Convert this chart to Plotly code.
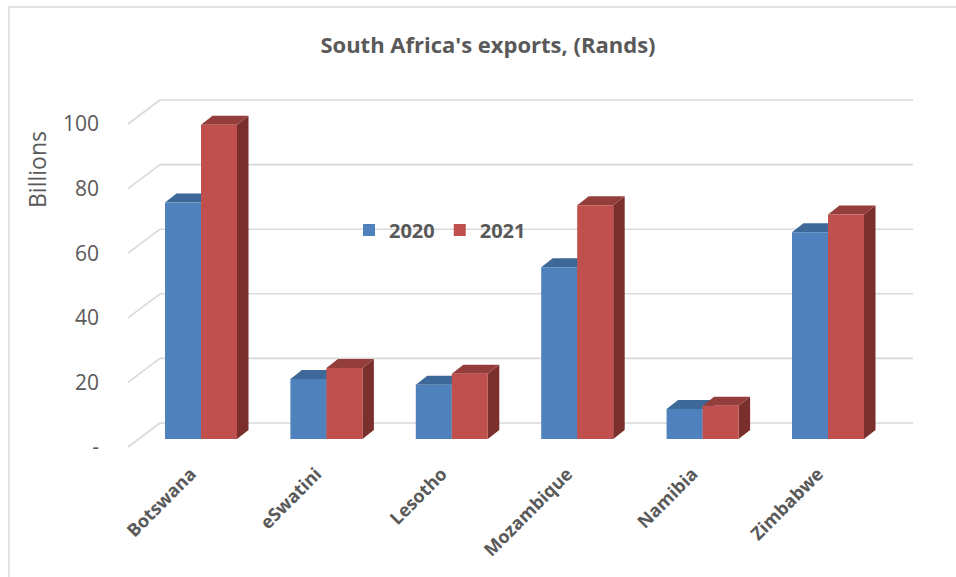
import plotly.graph_objects as go

# ---- data ----
categories = ["Botswana", "eSwatini", "Lesotho", "Mozambique", "Namibia", "Zimbabwe"]
series_names = ["2020", "2021"]
values_2020 = [73.2, 18.6, 16.8, 53.2, 9.3, 64.0]
values_2021 = [97.3, 22.0, 20.2, 72.4, 10.3, 69.5]
y_ticks = [0, 20, 40, 60, 80, 100]
y_tick_labels = ["-", "20", "40", "60", "80", "100"]

# ---- style / geometry ----
W, H = 956, 577
PL, PR, PT, PB = 128, 913, 95, 450          # plot area in pixels
X0_PX, X_STEP = 201, 125.4                  # first category centre, px per category
Y0_PX, Y_STEP = 439, 3.23                   # bar base px, px per unit
BAR_W = 36 / X_STEP                         # bar width in x units
DX, DY = 11.5 / X_STEP, 9 / Y_STEP          # bar depth
FRONT_DY = -8 / Y_STEP                      # floor front edge offset
BACK_DY = 16 / Y_STEP                       # back wall offset
BACK_XP = (160 - PL) / (PR - PL)            # back wall left edge (paper)

front_colors = ["#4F81BD", "#C0504D"]
top_colors = ["#3D6898", "#943E3B"]
side_colors = ["#2F5482", "#7B2F2D"]
grid_color = "#D9D9D9"
text_color = "#595959"
FONT = "Open Sans"

xr = [(PL - X0_PX) / X_STEP, (PR - X0_PX) / X_STEP]
yr = [(Y0_PX - PB) / Y_STEP, (Y0_PX - PT) / Y_STEP]

fig = go.Figure()
xs = list(range(len(categories)))
for k, (name, vals) in enumerate(zip(series_names, [values_2020, values_2021])):
    fig.add_trace(go.Bar(
        x=xs, y=vals, name=name,
        marker=dict(color=front_colors[k], line=dict(width=0)),
        offsetgroup=str(k),
    ))

shapes = []
# back-wall gridlines with the left floor diagonal
for v in y_ticks:
    shapes.append(dict(type="line", xref="paper", yref="y", layer="below",
                       x0=0, y0=v + FRONT_DY, x1=BACK_XP, y1=v + BACK_DY,
                       line=dict(color=grid_color, width=1.6)))
    shapes.append(dict(type="line", xref="paper", yref="y", layer="below",
                       x0=BACK_XP, y0=v + BACK_DY, x1=1, y1=v + BACK_DY,
                       line=dict(color=grid_color, width=1.6)))

# 3D side / top faces computed from the data
for i in xs:
    for k, vals in enumerate([values_2020, values_2021]):
        v = vals[i]
        x0 = i - BAR_W + k * BAR_W
        x1 = x0 + BAR_W
        side = f"M {x1},0 L {x1+DX},{DY} L {x1+DX},{v+DY} L {x1},{v} Z"
        top = f"M {x0},{v} L {x1},{v} L {x1+DX},{v+DY} L {x0+DX},{v+DY} Z"
        shapes.append(dict(type="path", path=side, xref="x", yref="y", layer="below",
                           fillcolor=side_colors[k], line=dict(width=0)))
        shapes.append(dict(type="path", path=top, xref="x", yref="y", layer="below",
                           fillcolor=top_colors[k], line=dict(width=0)))

# chart border
shapes.append(dict(type="rect", xref="paper", yref="paper", layer="below",
                   x0=(9 - PL) / (PR - PL), x1=2, y0=-2, y1=(PB - 7) / (PB - PT),
                   line=dict(color=grid_color, width=1.5), fillcolor="rgba(0,0,0,0)"))

fig.update_layout(
    width=W, height=H,
    margin=dict(l=PL, r=W - PR, t=PT, b=H - PB, autoexpand=False),
    paper_bgcolor="white", plot_bgcolor="rgba(0,0,0,0)",
    barmode="group", bargap=1 - 2 * BAR_W, bargroupgap=0,
    font=dict(family=FONT, color=text_color),
    title=dict(text="<b>South Africa's exports, (Rands)</b>",
               x=(488 - PL) / (PR - PL), xref="paper", xanchor="center",
               y=1 - 45 / H, yref="container", yanchor="middle",
               font=dict(size=22, color=text_color, family=FONT)),
    legend=dict(orientation="h", x=(349 - PL) / (PR - PL), xanchor="left",
                y=(PB - 230) / (PB - PT), yanchor="middle",
                bgcolor="rgba(0,0,0,0)", itemwidth=30,
                font=dict(size=20, color=text_color, family=FONT, weight="bold")),
    xaxis=dict(range=xr, tickmode="array", tickvals=xs, ticktext=categories,
               tickangle=-45, showgrid=False, zeroline=False, showline=False,
               ticks="", ticklabelshift=-10, ticklabelstandoff=9,
               tickfont=dict(size=18, color=text_color, family=FONT, weight="bold"),
               fixedrange=True),
    yaxis=dict(range=yr, tickmode="array",
               tickvals=[v + FRONT_DY for v in y_ticks], ticktext=y_tick_labels,
               showgrid=False, zeroline=False, showline=False, ticks="",
               ticklabelstandoff=28,
               tickfont=dict(size=21, color=text_color, family=FONT),
               fixedrange=True),
    shapes=shapes,
    annotations=[dict(text="Billions", xref="paper", yref="paper",
                      x=(37 - PL) / (PR - PL), y=(PB - 170) / (PB - PT),
                      xanchor="center", yanchor="middle", textangle=-90,
                      showarrow=False, font=dict(size=23, color=text_color, family=FONT))],
    showlegend=True,
)

fig.write_html("out.html", config={"displayModeBar": False},
               post_script="document.body.style.margin='0px';")
